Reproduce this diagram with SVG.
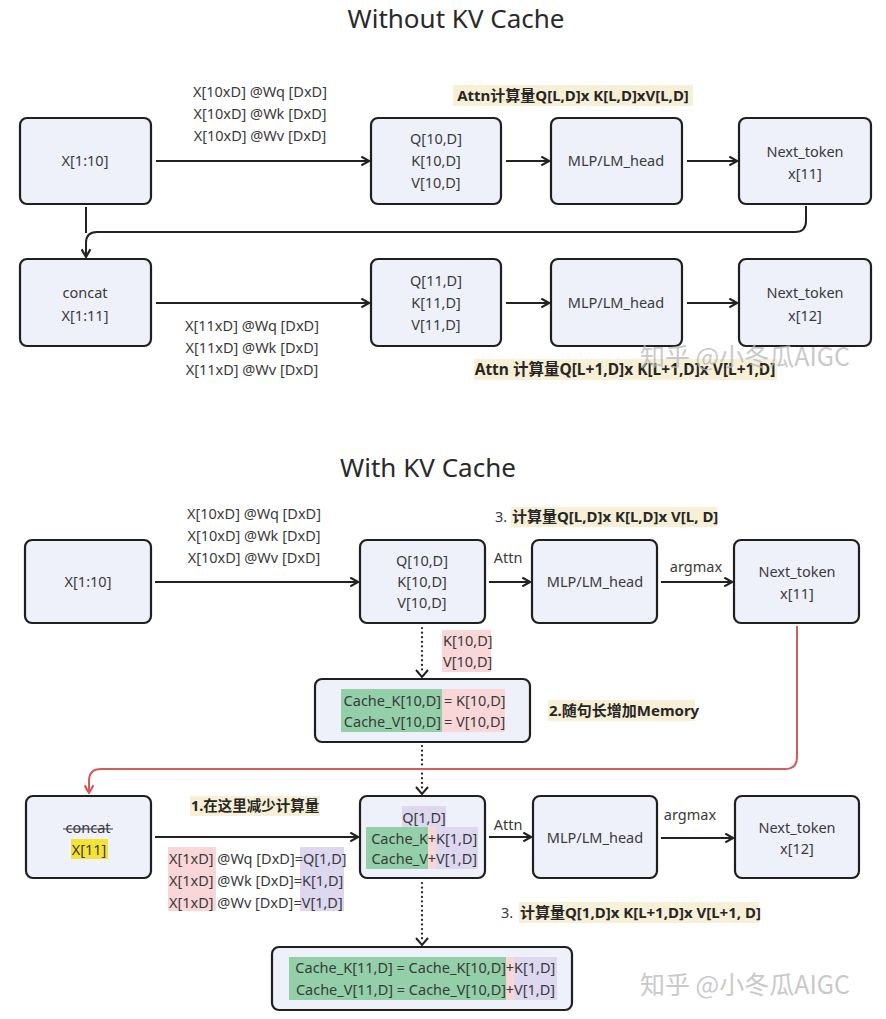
<svg xmlns="http://www.w3.org/2000/svg" width="886" height="1019" viewBox="0 0 886 1019">
<defs>
<style>
.box{fill:#eef0fa;stroke:#1f1f1f;stroke-width:2.2}
.t{font-family:"Noto Sans","Noto Sans CJK SC",sans-serif;font-size:14.5px;fill:#3a3a3a}
.m{text-anchor:middle}
.e{text-anchor:end}
.b{font-weight:bold;fill:#262626;font-size:15px}
.title{font-family:"Noto Sans","Noto Sans CJK SC",sans-serif;font-size:26px;fill:#2a2a2a;text-anchor:middle}
.conn{stroke:#222;stroke-width:2;fill:none}
.dot{stroke:#222;stroke-width:2.2;fill:none;stroke-dasharray:0.1 4.5;stroke-linecap:round}
.red{stroke:#d65a5a;stroke-width:2;fill:none}
.hy{fill:#f7efd6}
.hp{fill:#f9d6d8}
.hg{fill:#93cfa8}
.hv{fill:#ddd7f0}
.wm{font-family:"Noto Sans CJK SC","Noto Sans",sans-serif;font-size:25px;fill:#b8b8b8;opacity:0.75}
</style>
<marker id="ah" viewBox="0 0 10 10" refX="9" refY="5" markerWidth="11" markerHeight="11" markerUnits="userSpaceOnUse" orient="auto"><path d="M2,1 L9,5 L2,9" fill="none" stroke="#222" stroke-width="2"/></marker>
<marker id="ahr" viewBox="0 0 10 10" refX="9" refY="5" markerWidth="11" markerHeight="11" markerUnits="userSpaceOnUse" orient="auto"><path d="M2,1 L9,5 L2,9" fill="none" stroke="#d65a5a" stroke-width="2"/></marker>
</defs>
<rect width="886" height="1019" fill="#ffffff"/>

<text class="title" x="456" y="28">Without KV Cache</text>
<text class="title" x="428" y="477">With KV Cache</text>

<!-- connectors -->
<g id="connectors">
<line class="conn" x1="156" y1="161" x2="369" y2="161" marker-end="url(#ah)"/>
<line class="conn" x1="506" y1="161" x2="549" y2="161" marker-end="url(#ah)"/>
<line class="conn" x1="687" y1="161" x2="737" y2="161" marker-end="url(#ah)"/>
<path class="conn" d="M806,206 V221 Q806,232 795,232 H97 Q86,232 86,243 V257" marker-end="url(#ah)"/>
<line class="conn" x1="86" y1="207" x2="86" y2="233"/>
<line class="conn" x1="156" y1="303" x2="369" y2="303" marker-end="url(#ah)"/>
<line class="conn" x1="506" y1="303" x2="549" y2="303" marker-end="url(#ah)"/>
<line class="conn" x1="687" y1="303" x2="737" y2="303" marker-end="url(#ah)"/>

<line class="conn" x1="155" y1="582" x2="358" y2="582" marker-end="url(#ah)"/>
<line class="conn" x1="489" y1="582" x2="530" y2="582" marker-end="url(#ah)"/>
<line class="conn" x1="661" y1="582" x2="732" y2="582" marker-end="url(#ah)"/>
<line class="dot" x1="422" y1="628" x2="422" y2="672"/>
<path class="conn" d="M416,670 L422,677 L428,670"/>
<line class="dot" x1="422" y1="746" x2="422" y2="788"/>
<path class="conn" d="M416,787 L422,794 L428,787"/>
<path class="red" d="M797,626 V757 Q797,769 785,769 H101 Q89,769 89,781 V793" marker-end="url(#ahr)"/>

<line class="conn" x1="155" y1="837" x2="358" y2="837" marker-end="url(#ah)"/>
<line class="conn" x1="489" y1="837" x2="531" y2="837" marker-end="url(#ah)"/>
<line class="conn" x1="661" y1="838" x2="733" y2="838" marker-end="url(#ah)"/>
<line class="dot" x1="422" y1="883" x2="422" y2="940"/>
<path class="conn" d="M416,938 L422,945 L428,938"/>
</g>

<!-- section 1 labels -->
<g id="label-proj1">
<text class="t m" x="260" y="97">X[10xD] @Wq [DxD]</text>
<text class="t m" x="260" y="119">X[10xD] @Wk [DxD]</text>
<text class="t m" x="260" y="141">X[10xD] @Wv [DxD]</text>
</g>
<g id="label-attn1">
<rect class="hy" x="453" y="85" width="240" height="21"/>
<text class="t b m" x="573" y="101">Attn计算量Q[L,D]x K[L,D]xV[L,D]</text>
</g>
<g id="label-proj2">
<text class="t m" x="252" y="331">X[11xD] @Wq [DxD]</text>
<text class="t m" x="252" y="353">X[11xD] @Wk [DxD]</text>
<text class="t m" x="252" y="375">X[11xD] @Wv [DxD]</text>
</g>
<g id="label-attn2">
<rect class="hy" x="474" y="359" width="303" height="21"/>
<text class="t b m" x="625" y="375" style="font-size:15.5px">Attn 计算量Q[L+1,D]x K[L+1,D]x V[L+1,D]</text>
</g>

<!-- section 1 nodes -->
<g id="n-x110"><rect class="box" x="20" y="118" width="131" height="86" rx="7"/><text class="t m" x="85" y="166">X[1:10]</text></g>
<g id="n-qkv10"><rect class="box" x="371" y="118" width="130" height="86" rx="7"/>
<text class="t m" x="436" y="144">Q[10,D]</text><text class="t m" x="436" y="166">K[10,D]</text><text class="t m" x="436" y="188">V[10,D]</text></g>
<g id="n-mlp1"><rect class="box" x="551" y="118" width="131" height="86" rx="7"/><text class="t m" x="616" y="166">MLP/LM_head</text></g>
<g id="n-next11"><rect class="box" x="739" y="118" width="132" height="86" rx="7"/><text class="t m" x="805" y="157">Next_token</text><text class="t m" x="805" y="179">x[11]</text></g>

<g id="n-concat1"><rect class="box" x="20" y="259" width="131" height="87" rx="7"/><text class="t m" x="85" y="298">concat</text><text class="t m" x="85" y="321">X[1:11]</text></g>
<g id="n-qkv11"><rect class="box" x="371" y="259" width="130" height="87" rx="7"/>
<text class="t m" x="436" y="286">Q[11,D]</text><text class="t m" x="436" y="308">K[11,D]</text><text class="t m" x="436" y="330">V[11,D]</text></g>
<g id="n-mlp2"><rect class="box" x="551" y="259" width="131" height="87" rx="7"/><text class="t m" x="616" y="308">MLP/LM_head</text></g>
<g id="n-next12a"><rect class="box" x="739" y="259" width="132" height="87" rx="7"/><text class="t m" x="805" y="298">Next_token</text><text class="t m" x="805" y="321">x[12]</text></g>

<text class="wm" x="640" y="366">知乎 @小冬瓜AIGC</text>

<!-- section 2 labels -->
<g id="label-proj3">
<text class="t m" x="254" y="519">X[10xD] @Wq [DxD]</text>
<text class="t m" x="254" y="541">X[10xD] @Wk [DxD]</text>
<text class="t m" x="254" y="563">X[10xD] @Wv [DxD]</text>
</g>
<text class="t m" x="508" y="563">Attn</text>
<text class="t m" x="696" y="572">argmax</text>
<g id="label-calc3a">
<text class="t" x="495" y="522">3.</text>
<rect class="hy" x="511" y="507" width="206" height="20"/>
<text class="t b" x="512" y="522">计算量Q[L,D]x K[L,D]x V[L, D]</text>
</g>
<g id="label-kv10">
<rect class="hp" x="442" y="630" width="49" height="42"/>
<text class="t" x="443" y="646">K[10,D]</text>
<text class="t" x="443" y="667">V[10,D]</text>
</g>
<g id="label-mem">
<rect class="hy" x="548" y="700" width="147" height="21"/>
<text class="t b" x="549" y="716">2.随句长增加Memory</text>
</g>

<!-- section 2 nodes -->
<g id="n-x110b"><rect class="box" x="25" y="540" width="126" height="83" rx="7"/><text class="t m" x="88" y="587">X[1:10]</text></g>
<g id="n-qkv10b"><rect class="box" x="360" y="540" width="125" height="83" rx="7"/>
<text class="t m" x="422" y="566">Q[10,D]</text><text class="t m" x="422" y="587">K[10,D]</text><text class="t m" x="422" y="608">V[10,D]</text></g>
<g id="n-mlp3"><rect class="box" x="532" y="540" width="125" height="83" rx="7"/><text class="t m" x="595" y="587">MLP/LM_head</text></g>
<g id="n-next11b"><rect class="box" x="734" y="540" width="125" height="83" rx="7"/><text class="t m" x="797" y="577">Next_token</text><text class="t m" x="797" y="599">x[11]</text></g>

<g id="n-cache10"><rect class="box" x="315" y="679" width="215" height="63" rx="7"/>
<rect class="hg" x="341" y="689" width="101" height="43"/><rect class="hp" x="442" y="689" width="63" height="43"/>
<text class="t e" x="441" y="706">Cache_K[10,D]</text><text class="t" x="444" y="706">= K[10,D]</text>
<text class="t e" x="441" y="727">Cache_V[10,D]</text><text class="t" x="444" y="727">= V[10,D]</text></g>

<g id="label-reduce">
<rect class="hy" x="190" y="796" width="130" height="20"/>
<text class="t b" x="191" y="811" style="font-size:14.5px">1.在这里减少计算量</text>
</g>
<g id="label-proj4">
<rect class="hp" x="168" y="847" width="48" height="64"/>
<rect class="hv" x="300" y="847" width="44" height="64"/>
<text class="t" x="169" y="864">X[1xD] @Wq [DxD]=Q[1,D]</text>
<text class="t" x="169" y="886">X[1xD] @Wk [DxD]=K[1,D]</text>
<text class="t" x="169" y="908">X[1xD] @Wv [DxD]=V[1,D]</text>
</g>
<text class="t m" x="508" y="830">Attn</text>
<text class="t m" x="690" y="820">argmax</text>
<g id="label-calc3b">
<text class="t" x="501" y="918">3.</text>
<rect class="hy" x="519" y="902" width="240" height="21"/>
<text class="t b" x="520" y="918">计算量Q[1,D]x K[L+1,D]x V[L+1, D]</text>
</g>

<g id="n-concat2"><rect class="box" x="26" y="796" width="125" height="82" rx="7"/>
<text class="t m" x="88" y="833">concat</text><line x1="63" y1="829" x2="113" y2="829" stroke="#3a3a3a" stroke-width="1.2"/>
<rect x="71" y="839" width="37" height="20" fill="#f4e234"/><text class="t m" x="89" y="855">X[11]</text></g>
<g id="n-q1"><rect class="box" x="360" y="796" width="125" height="82" rx="7"/>
<rect class="hv" x="402" y="806" width="44" height="21"/>
<text class="t m" x="424" y="823">Q[1,D]</text>
<rect class="hg" x="366" y="827" width="62" height="42"/><rect class="hp" x="428" y="827" width="8" height="42"/><rect class="hv" x="436" y="827" width="42" height="42"/>
<text class="t e" x="428" y="844">Cache_K</text><text class="t m" x="432" y="844">+</text><text class="t" x="436" y="844">K[1,D]</text>
<text class="t e" x="428" y="864">Cache_V</text><text class="t m" x="432" y="864">+</text><text class="t" x="436" y="864">V[1,D]</text></g>
<g id="n-mlp4"><rect class="box" x="533" y="796" width="124" height="82" rx="7"/><text class="t m" x="595" y="843">MLP/LM_head</text></g>
<g id="n-next12b"><rect class="box" x="735" y="796" width="124" height="82" rx="7"/><text class="t m" x="797" y="833">Next_token</text><text class="t m" x="797" y="854">x[12]</text></g>

<g id="n-cache11"><rect class="box" x="272" y="947" width="300" height="63" rx="7"/>
<rect class="hg" x="289" y="957" width="217" height="43"/><rect class="hp" x="506" y="957" width="8" height="43"/><rect class="hv" x="514" y="957" width="43" height="43"/>
<text class="t e" x="506" y="973">Cache_K[11,D] = Cache_K[10,D]</text><text class="t m" x="510" y="973">+</text><text class="t" x="514" y="973">K[1,D]</text>
<text class="t e" x="506" y="995">Cache_V[11,D] = Cache_V[10,D]</text><text class="t m" x="510" y="995">+</text><text class="t" x="514" y="995">V[1,D]</text></g>

<text class="wm" x="640" y="994">知乎 @小冬瓜AIGC</text>
</svg>
